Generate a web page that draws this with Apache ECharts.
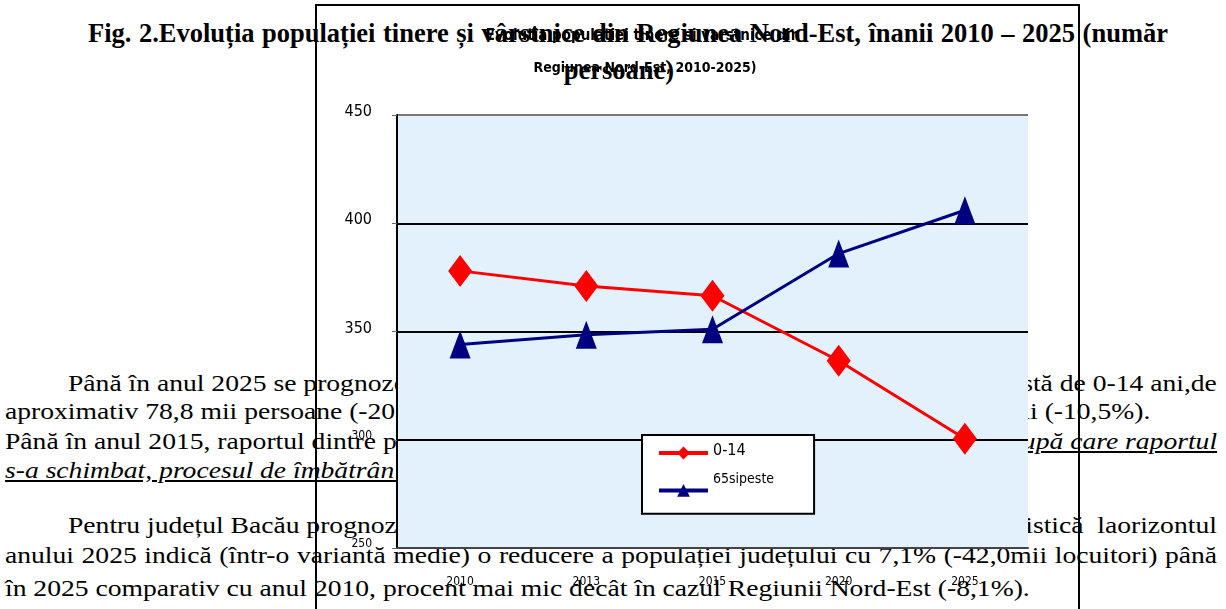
<!DOCTYPE html>
<html>
<head>
<meta charset="utf-8">
<script src="https://cdn.jsdelivr.net/npm/echarts@6/dist/echarts.min.js"></script>
<style>
html, body { margin: 0; padding: 0; width: 1226px; height: 609px; overflow: hidden; background: #fff; }
.doc { position: absolute; left: 0; top: 0; width: 1226px; height: 609px; font-family: 'Liberation Serif', 'Times New Roman', serif; font-size: 24px; color: #000; }
.ln { position: absolute; height: 30px; line-height: 30px; white-space: nowrap; display: flex; justify-content: space-between; transform: scaleX(1.15); transform-origin: 0 0; }
.jt { position: absolute; height: 30px; line-height: 30px; white-space: nowrap; text-align: justify; text-align-last: justify; }
.ttl { font-weight: bold; font-size: 26.5px; }
.iu { font-style: italic; text-decoration: underline; }
#chart { position: absolute; left: 315px; top: 4px; width: 765px; height: 650px; border: 2px solid #000; box-sizing: border-box; }
</style>
</head>
<body>
<div class="doc">
  <div class="jt ttl" style="left:88px;top:18px;width:1080px;">Fig. 2.Evoluția populației tinere și vârstnice din Regiunea Nord-Est, înanii 2010 – 2025 (număr</div>
  <div class="jt ttl" style="left:559px;top:55px;width:120px;text-align:center;text-align-last:center;">persoane)</div>

  <div class="ln" style="left:68px;top:368px;width:999px;"><span>Până în anul 2025 se prognozează o scădere a populației</span><span>din grupa de vârstă de 0-14 ani,de</span></div>
  <div class="ln" style="left:5px;top:396px;width:996px;"><span>aproximativ 78,8 mii persoane (-20,5%), în timp ce</span><span>vârstnicii vor crește cu 40,2 mii (-10,5%).</span></div>
  <div class="ln" style="left:5px;top:426px;width:1054px;"><span>Până în anul 2015, raportul dintre populația tânără</span><span>era favorabil, <span class="iu">după care raportul</span></span></div>
  <div class="ln" style="left:5px;top:455px;width:1054px;"><span class="iu">s-a schimbat, procesul de îmbătrânire demografică devenind evident.</span><span></span></div>

  <div class="ln" style="left:68px;top:510px;width:999px;"><span>Pentru județul Bacău prognoza populației</span><span>Institutul Național de Statistică&nbsp; laorizontul</span></div>
  <div class="ln" style="left:5px;top:540px;width:1054px;"><span style="display:block;width:100%;text-align:justify;text-align-last:justify;">anului 2025 indică (într-o variantă medie) o reducere a populației județului cu 7,1% (-42,0mii locuitori) până</span></div>
  <div class="ln" style="left:5px;top:573px;width:1054px;justify-content:flex-start;">în 2025 comparativ cu anul 2010, procent mai mic decât în cazul Regiunii Nord-Est (-8,1%).</div>
</div>

<div id="chart"></div>

<script>
var years = ['2010', '2013', '2015', '2020', '2025'];
var young = [378, 371, 366.5, 336.5, 300.5];
var old = [344, 348.5, 351, 386, 406];
var yMin = 250, yMax = 450, yStep = 50;
var titleLine1 = 'Evolutia populatiei tinere si varstnice din';
var titleLine2 = 'Regiunea Nord-Est, 2010-2025)';

var narrow = "'Liberation Sans Narrow', 'Arial Narrow', 'DejaVu Sans Condensed', sans-serif";

var myChart = echarts.init(document.getElementById('chart'));
var option = {
  animation: false,
  backgroundColor: 'transparent',
  graphic: [
    { type: 'text', x: 326, y: 30, style: { text: titleLine1, fontFamily: narrow, fontWeight: 'bold', fontSize: 15, fill: '#000', align: 'center', verticalAlign: 'middle' } },
    { type: 'text', x: 328, y: 62, style: { text: titleLine2, fontFamily: narrow, fontWeight: 'bold', fontSize: 14, fill: '#000', align: 'center', verticalAlign: 'middle' } }
  ],
  grid: {
    left: 80, top: 109, width: 631, height: 433,
    show: true, backgroundColor: '#E3F1FC', borderWidth: 0
  },
  legend: {
    orient: 'vertical',
    left: 325, top: 429,
    padding: [8, 40, 17, 15],
    itemWidth: 49, itemHeight: 16, itemGap: 13,
    backgroundColor: '#fff', borderColor: '#000', borderWidth: 2, borderRadius: 0,
    lineStyle: { width: 4 },
    data: ['0-14', '65sipeste'],
    formatter: function (name) { return name === '0-14' ? '{a|' + name + '}' : '{b|' + name + '}'; },
    textStyle: {
      color: '#000', fontFamily: narrow,
      rich: {
        a: { fontSize: 16, fontFamily: narrow, padding: [0, 0, 4, 0] },
        b: { fontSize: 14, fontFamily: narrow, padding: [0, 0, 22, 0] }
      }
    }
  },
  xAxis: {
    type: 'category',
    data: years,
    boundaryGap: true,
    axisLine: { show: true, lineStyle: { color: '#444', width: 2 } },
    axisTick: { show: false },
    axisLabel: { margin: 28, fontSize: 12, fontFamily: narrow, color: '#000' },
    splitLine: { show: false }
  },
  yAxis: {
    type: 'value',
    min: yMin, max: yMax, interval: yStep,
    axisLine: { show: true, lineStyle: { color: '#000', width: 2 } },
    axisTick: { show: true, length: 5, lineStyle: { color: '#666', width: 1 } },
    axisLabel: {
      margin: 25, color: '#000',
      formatter: function (v) { return v >= 350 ? '{a|' + v + '}' : '{b|' + v + '}'; },
      rich: {
        a: { fontSize: 16, fontFamily: narrow, color: '#000', padding: [0, 0, 6, 0] },
        b: { fontSize: 12, fontFamily: narrow, color: '#000', padding: [0, 0, 8, 0] }
      }
    },
    splitLine: { show: true, lineStyle: { color: ['#444', '#000', '#000', '#000', '#777'], width: 2 } }
  },
  series: [
    {
      name: '0-14', type: 'line', data: young,
      symbol: 'diamond', symbolSize: [24, 32],
      lineStyle: { color: '#FF0000', width: 3 },
      itemStyle: { color: '#FF0000' }
    },
    {
      name: '65sipeste', type: 'line', data: old,
      symbol: 'triangle', symbolSize: [21, 28],
      lineStyle: { color: '#000080', width: 3 },
      itemStyle: { color: '#000080' }
    }
  ]
};
myChart.setOption(option);
myChart.resize();
</script>
</body>
</html>
